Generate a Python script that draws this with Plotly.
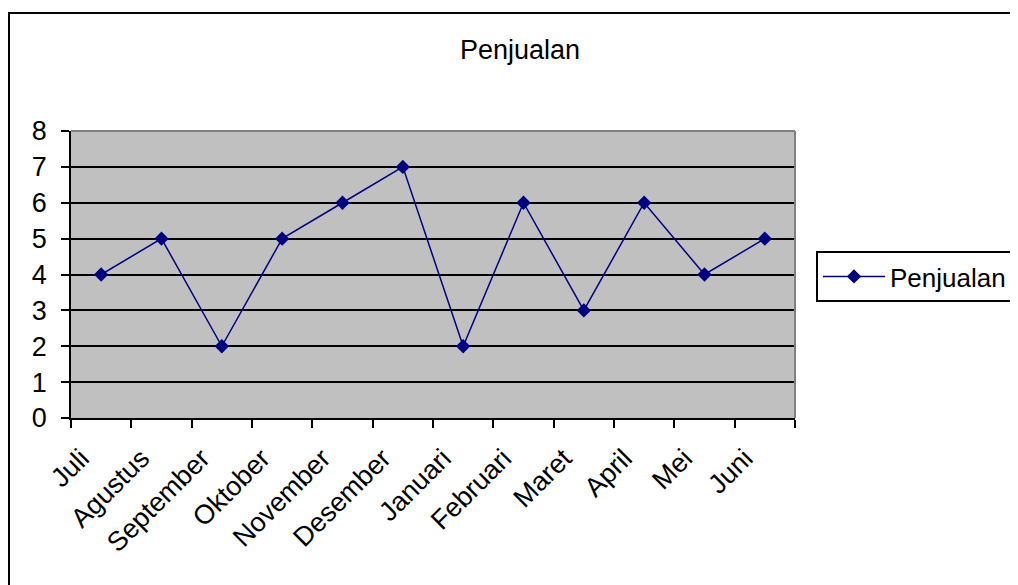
import plotly.graph_objects as go

months = ["Juli", "Agustus", "September", "Oktober", "November", "Desember",
          "Januari", "Februari", "Maret", "April", "Mei", "Juni"]
penjualan = [4, 5, 2, 5, 6, 7, 2, 6, 3, 6, 4, 5]
y_ticks = [0, 1, 2, 3, 4, 5, 6, 7, 8]

W, H = 1018, 585
OFF = 8  # page body margin
L, R, T, B = 71 - OFF, 795 - OFF, 131 - OFF, 418 - OFF
FONT = 27

fig = go.Figure()
fig.add_trace(go.Scatter(
    x=months, y=penjualan, name="Penjualan", mode="lines+markers",
    line=dict(color="#000080", width=1.5),
    marker=dict(symbol="diamond", size=11, color="#000080"),
))

def px_x(p):
    return (p - OFF - L) / (R - L)

def px_y(p):
    return (B - (p - OFF)) / (B - T)

fig.update_layout(
    width=W, height=H,
    margin=dict(l=L, r=W - R, t=T, b=H - B, autoexpand=False),
    paper_bgcolor="white", plot_bgcolor="#C0C0C0",
    font=dict(family="Liberation Sans, Arial, sans-serif", size=FONT, color="black"),
    title=dict(text="Penjualan", x=(520 - OFF) / W, xanchor="center",
               y=1 - (50 - OFF) / H, yanchor="middle", font=dict(size=FONT)),
    showlegend=True,
    legend=dict(x=px_x(816), y=px_y(251), xanchor="left", yanchor="top",
                bordercolor="black", borderwidth=2, bgcolor="white",
                font=dict(size=26), itemwidth=62, tracegroupgap=0),
    xaxis=dict(type="category", range=[-0.5, 11.5], tickson="boundaries",
               ticks="outside", ticklen=8, tickwidth=1.5, tickcolor="black",
               showline=True, linecolor="black", linewidth=1.5,
               showgrid=False, tickangle=-45, fixedrange=True,
               ticklabelstandoff=12, ticklabelshift=-20,
               tickfont=dict(size=FONT)),
    yaxis=dict(range=[0, 8], tickvals=y_ticks, ticks="outside", ticklen=8,
               tickwidth=1.5, tickcolor="black", showline=True,
               linecolor="black", linewidth=1.5, gridcolor="black",
               gridwidth=1.5, zeroline=False, fixedrange=True,
               ticklabelstandoff=9, tickfont=dict(size=FONT)),
    shapes=[
        dict(type="line", xref="paper", yref="paper", x0=0, x1=1, y0=1, y1=1,
             line=dict(color="#808080", width=2), layer="above"),
        dict(type="line", xref="paper", yref="paper", x0=1, x1=1, y0=0, y1=1,
             line=dict(color="#808080", width=2), layer="above"),
        dict(type="rect", xref="paper", yref="paper",
             x0=px_x(9), x1=px_x(1060), y0=px_y(13), y1=px_y(640),
             line=dict(color="black", width=2), fillcolor="rgba(0,0,0,0)",
             layer="above"),
    ],
)

fig.write_html("out.html")
